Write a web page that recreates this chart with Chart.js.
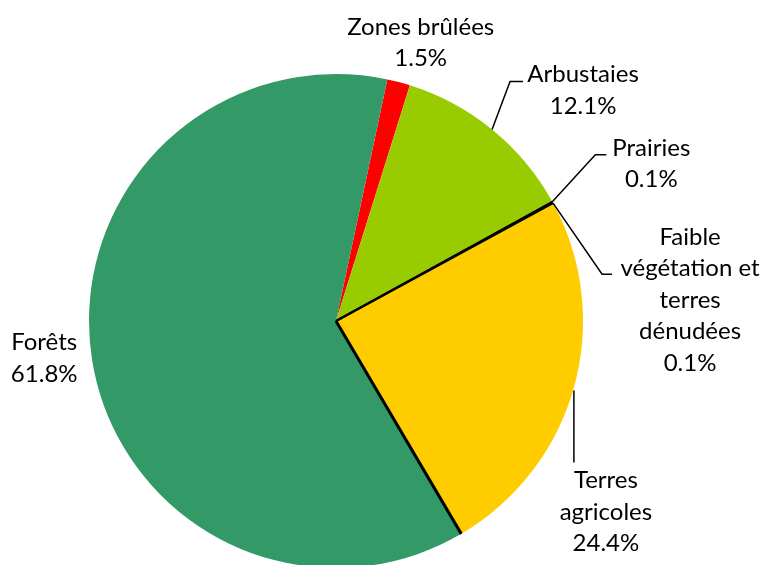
<!DOCTYPE html>
<html>
<head>
<meta charset="utf-8">
<script src="https://cdn.jsdelivr.net/npm/chart.js@4.4.1/dist/chart.umd.min.js"></script>
<style>
  html, body { margin: 0; padding: 0; background: #ffffff; overflow: hidden; }
  #wrap { position: absolute; left: 0; top: 0; width: 764px; height: 600px; }
</style>
</head>
<body>
<div id="wrap"><canvas id="c"></canvas></div>
<script>
// ---- data ----
const categories = ["Zones brûlées", "Arbustaies", "Prairies", "Faible végétation et terres dénudées", "Terres agricoles", "Forêts"];
const labelLines = [["Zones brûlées"], ["Arbustaies"], ["Prairies"], ["Faible", "végétation et", "terres", "dénudées"], ["Terres", "agricoles"], ["Forêts"]];
const shares = [1.5, 12.1, 0.1, 0.1, 24.4, 61.8];
const sliceColors = ["#FF0000", "#99CC00", "#000000", "#000000", "#FFCC00", "#339966"];

// ---- label placement (offsets from each slice's outer mid point) ----
const labelStyle = [
  { dx: 22, dy: -55, leader: null },
  { dx: 91, dy: -55, leader: [[0, 0], [18, -48], [31, -48]] },
  { dx: 99, dy: -54, leader: [[0, 0], [43, -47], [54, -47]] },
  { dx: 137, dy: 34, leader: [[0, 0], [49, 71], [59, 71]] },
  { dx: 32, dy: 93, leader: [[0, 3], [0, 75]] },
  { dx: -48, dy: -18, leader: null }
];
const FONT = '24px Lato';
const LINE_H = 31.5;

function edge(ctx, arc, ang, w) {
  ctx.lineWidth = w;
  ctx.beginPath();
  ctx.moveTo(arc.x, arc.y);
  ctx.lineTo(arc.x + arc.outerRadius * Math.cos(ang), arc.y + arc.outerRadius * Math.sin(ang));
  ctx.stroke();
}

const labelPlugin = {
  id: 'pieLabels',
  afterDatasetsDraw(chart) {
    const ctx = chart.ctx;
    const meta = chart.getDatasetMeta(0);
    ctx.save();
    ctx.strokeStyle = '#000';
    // dark edges: the thin black slices and the start of the last slice
    meta.data.forEach((arc, i) => {
      if (sliceColors[i] === '#000000') edge(ctx, arc, (arc.startAngle + arc.endAngle) / 2, 2);
    });
    const last = meta.data[meta.data.length - 1];
    edge(ctx, last, last.startAngle, 3);
    ctx.restore();

    meta.data.forEach((arc, i) => {
      const mid = (arc.startAngle + arc.endAngle) / 2;
      const px = arc.x + arc.outerRadius * Math.cos(mid);
      const py = arc.y + arc.outerRadius * Math.sin(mid);
      const st = labelStyle[i];
      ctx.save();
      if (st.leader) {
        ctx.strokeStyle = '#000';
        ctx.lineWidth = 1.5;
        ctx.beginPath();
        st.leader.forEach((p, k) => {
          if (k === 0) ctx.moveTo(px + p[0], py + p[1]);
          else ctx.lineTo(px + p[0], py + p[1]);
        });
        ctx.stroke();
      }
      ctx.fillStyle = '#000';
      ctx.font = FONT;
      ctx.textAlign = 'center';
      ctx.textBaseline = 'middle';
      const lines = labelLines[i].concat([shares[i].toFixed(1) + '%']);
      lines.forEach((t, k) => {
        ctx.fillText(t, px + st.dx, py + st.dy + k * LINE_H);
      });
      ctx.restore();
    });
  }
};

new Chart(document.getElementById('c'), {
  type: 'pie',
  data: {
    labels: categories,
    datasets: [{
      data: shares,
      backgroundColor: sliceColors,
      borderWidth: 0,
      hoverOffset: 0
    }]
  },
  options: {
    responsive: true,
    maintainAspectRatio: false,
    animation: false,
    rotation: 12,
    layout: { padding: { top: 74, bottom: 32, left: 89, right: 181 } },
    plugins: {
      legend: { display: false },
      tooltip: { enabled: false }
    }
  },
  plugins: [labelPlugin]
});
</script>
</body>
</html>
